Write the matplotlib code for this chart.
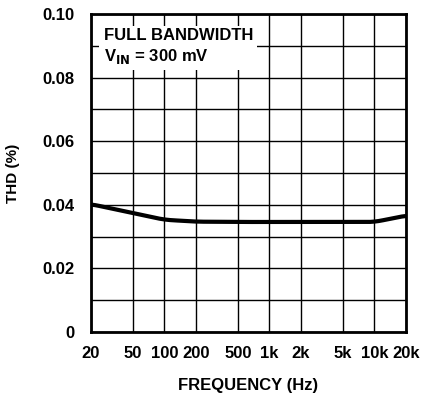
import numpy as np
import matplotlib.pyplot as plt
from matplotlib.ticker import FixedLocator, NullLocator

plt.rcParams['font.family'] = ['Liberation Sans Narrow', 'Liberation Sans', 'DejaVu Sans']
plt.rcParams['font.weight'] = 'bold'
plt.rcParams['axes.labelweight'] = 'bold'

freq = [20, 50, 100, 200, 500, 1000, 2000, 5000, 10000, 20000]
thd = [0.0402, 0.0374, 0.0353, 0.0347, 0.0346, 0.0346, 0.0346, 0.0346, 0.0346, 0.0366]
tick_labels = ["20", "50", "100", "200", "500", "1k", "2k", "5k", "10k", "20k"]
y_ticks = [0, 0.02, 0.04, 0.06, 0.08, 0.10]
y_labels = ["0", "0.02", "0.04", "0.06", "0.08", "0.10"]

fig = plt.figure(figsize=(4.33, 4.05), dpi=100)
ax = fig.add_axes([91 / 433, 1 - 332 / 405, 315 / 433, 318 / 405])

# smooth-ish curve through read points (log x)
lx = np.log10(freq)
xs = np.linspace(lx[0], lx[-1], 300)
ys = np.interp(xs, lx, thd)
k = np.ones(15) / 15
ys_s = np.convolve(np.pad(ys, 7, mode='edge'), k, mode='valid')
ax.plot(10 ** xs, ys_s, color='black', lw=3, solid_capstyle='butt', zorder=3)

ax.set_xscale('log')
ax.set_xlim(20, 20000)
ax.set_ylim(0, 0.10)
ax.xaxis.set_major_locator(FixedLocator(freq))
ax.xaxis.set_minor_locator(NullLocator())
ax.set_xticklabels(tick_labels)
ax.set_yticks(y_ticks)
ax.set_yticklabels(y_labels)
ax.set_yticks(np.arange(0.01, 0.1, 0.02), minor=True)
ax.grid(True, which='both', color='black', lw=1)
ax.tick_params(which='both', length=0, labelsize=12, pad=12)
ax.tick_params(axis='x', pad=10)
for s in ax.spines.values():
    s.set_linewidth(2)

ax.set_xlabel("FREQUENCY (Hz)", fontsize=12, labelpad=12)
ax.set_ylabel("THD (%)", fontsize=11)
ax.yaxis.set_label_coords(-0.225, 0.5)

ax.text(0.04, 0.955, "FULL BANDWIDTH\nV$_{\\mathbf{IN}}$ = 300 mV", transform=ax.transAxes,
        fontsize=12, va='top', ha='left', linespacing=1.25,
        bbox=dict(facecolor='white', edgecolor='none', pad=3), zorder=4)

fig.savefig("out.png", dpi=100)
